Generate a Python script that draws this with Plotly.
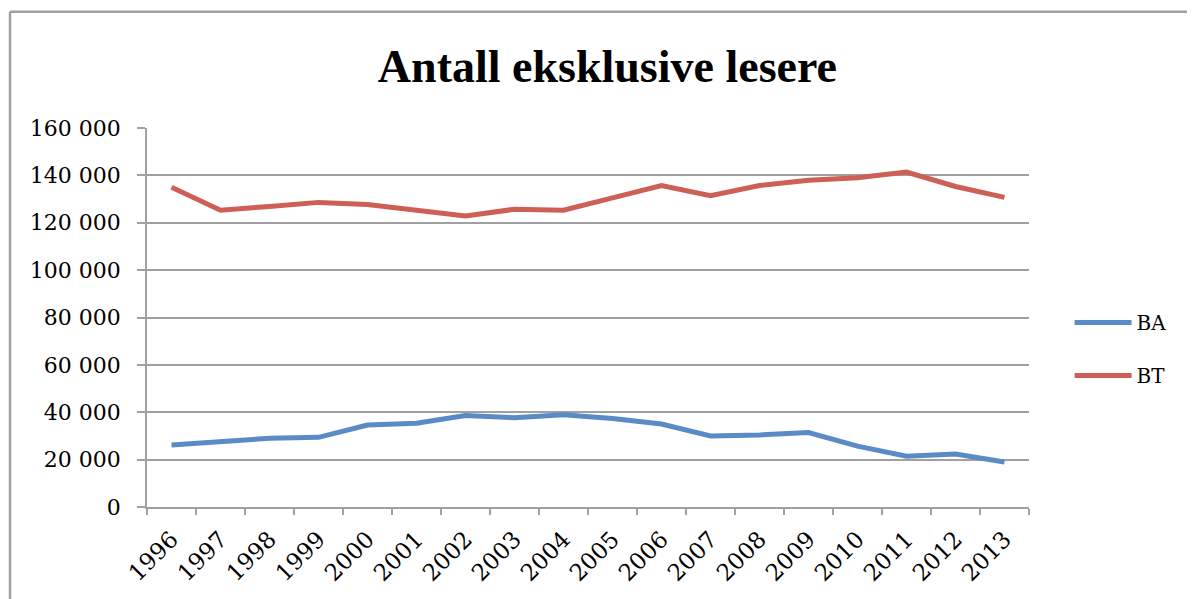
import plotly.graph_objects as go

years = [str(y) for y in range(1996, 2014)]
ba = [26200, 27400, 29000, 29400, 34600, 35400, 38600, 37700, 38900,
      37400, 35000, 30000, 30400, 31400, 25700, 21400, 22400, 19000]
bt = [135000, 125300, 126900, 128600, 127700, 125300, 122900, 125700, 125300,
      130500, 135700, 131400, 135700, 137900, 139000, 141400, 135300, 130700]
y_ticks = [0, 20000, 40000, 60000, 80000, 100000, 120000, 140000, 160000]

BLUE = "#5A8BC7"
RED = "#CE5F57"
GRID = "#A0A0A0"
TFONT = "Liberation Serif"
FONT = "DejaVu Serif"

fig = go.Figure()
fig.add_trace(go.Scatter(x=years, y=ba, name="BA", mode="lines",
                         line=dict(color=BLUE, width=5), legendgroup="a"))
fig.add_trace(go.Scatter(x=years, y=bt, name="BT", mode="lines",
                         line=dict(color=RED, width=5), legendgroup="b"))

fig.update_layout(
    width=1187, height=591, autosize=False,
    margin=dict(l=139, r=166, t=120, b=92),
    paper_bgcolor="white", plot_bgcolor="white",
    separators=". ",
    font=dict(family=FONT, color="black", size=22),
    title=dict(text="<b>Antall eksklusive lesere</b>", x=0.505, xref="container",
               xanchor="center", y=0.902, yref="container", yanchor="middle",
               font=dict(family=TFONT, size=46, color="black")),
    showlegend=True,
    legend=dict(x=1.046, xanchor="left", y=0.417, yanchor="middle",
                font=dict(family=FONT, size=20, color="black"),
                traceorder="grouped", tracegroupgap=24, itemwidth=57,
                bgcolor="rgba(0,0,0,0)"),
    xaxis=dict(type="category", range=[-0.5, 17.5], showgrid=False,
               showline=True, linecolor=GRID, linewidth=1.5,
               ticks="outside", tickson="boundaries", ticklen=6,
               tickcolor=GRID, tickwidth=1.5, tickangle=-45,
               ticklabelstandoff=8,
               tickfont=dict(family=FONT, size=23, color="black")),
    yaxis=dict(range=[0, 160000], tickvals=y_ticks, tickformat=",d",
               showgrid=True, gridcolor=GRID, gridwidth=1.5,
               showline=True, linecolor=GRID, linewidth=1.5,
               ticks="outside", ticklen=8, tickcolor=GRID, tickwidth=1.5,
               ticklabelstandoff=12, zeroline=False,
               tickfont=dict(family=FONT, size=22, color="black")),
    shapes=[
        dict(type="line", xref="paper", yref="paper", x0=-0.1553, x1=-0.1553,
             y0=1.307, y1=-0.4, line=dict(color=GRID, width=2.5)),
        dict(type="line", xref="paper", yref="paper", x0=-0.1553, x1=1.3,
             y0=1.307, y1=1.307, line=dict(color=GRID, width=2.5)),
    ],
)

fig.write_html("out.html")
